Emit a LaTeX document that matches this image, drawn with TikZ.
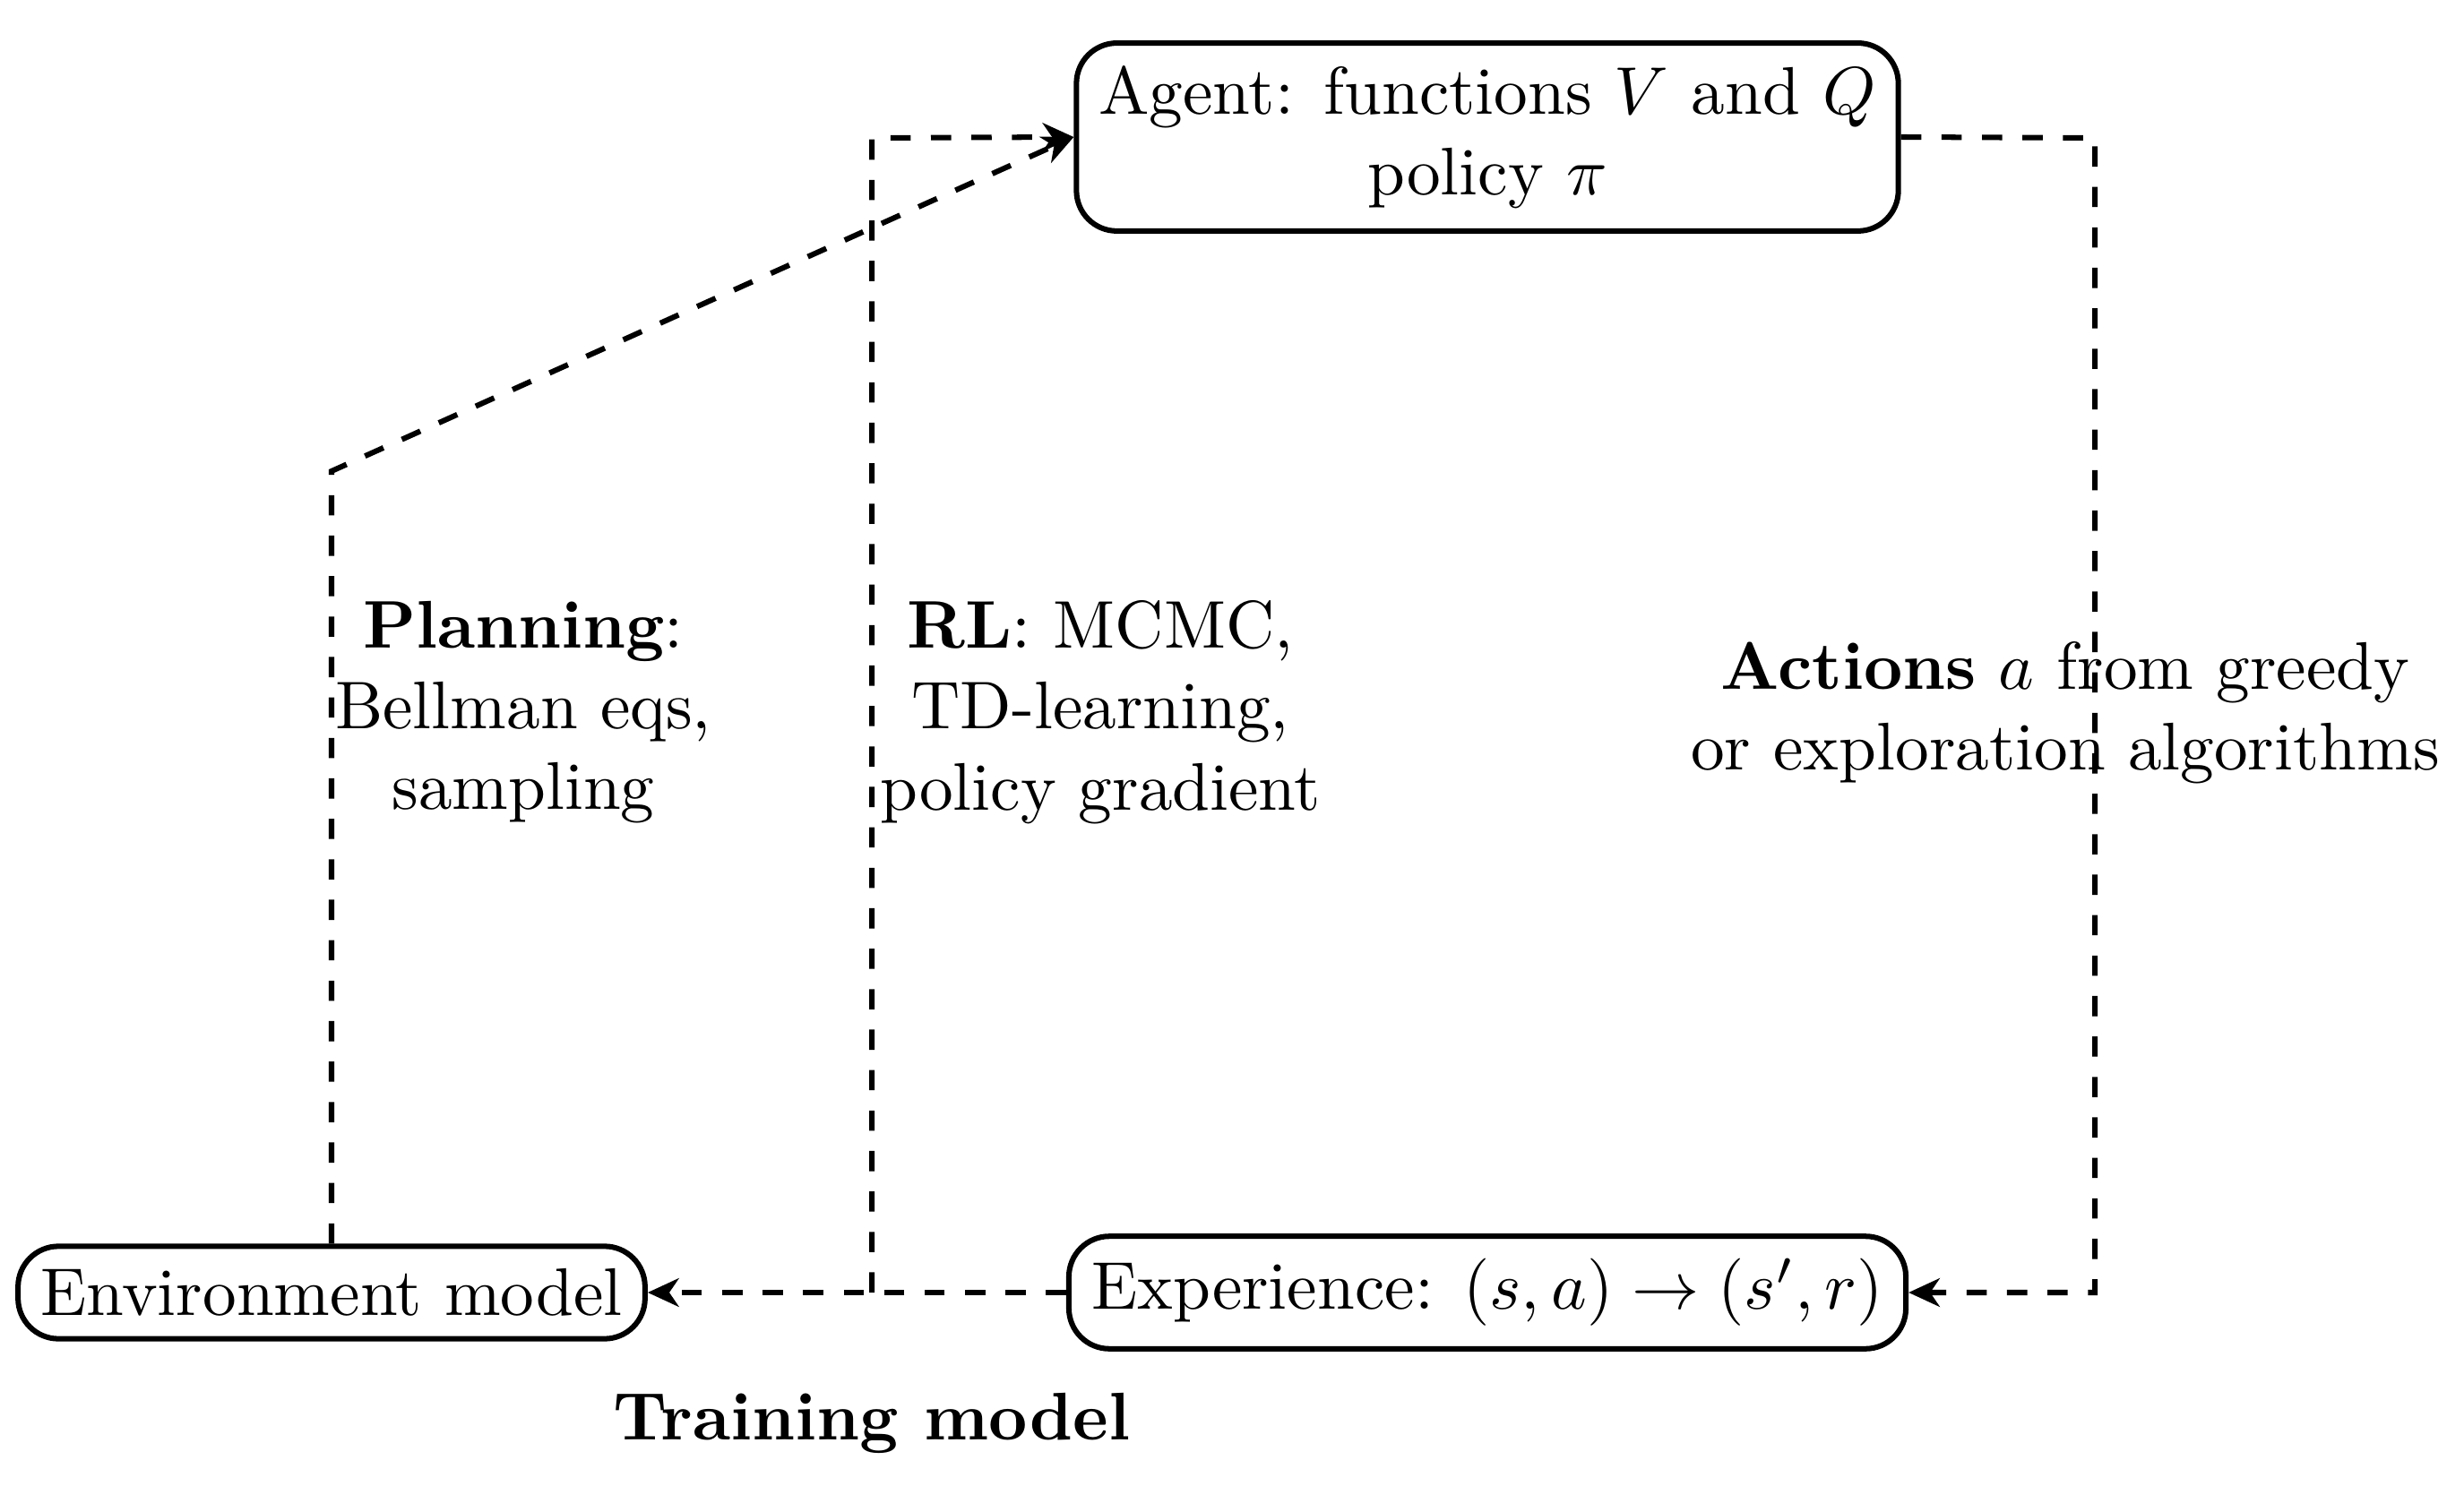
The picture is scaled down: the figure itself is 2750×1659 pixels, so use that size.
\documentclass[tikz,border=0pt]{standalone}
\usetikzlibrary{arrows.meta,calc}
\begin{document}
\begin{tikzpicture}[x=0.004667cm,y=-0.004667cm,
  box/.style={draw,thick,rounded corners=6pt,align=center,fill=white},
  conn/.style={dashed,thick},
  arr/.style={conn,-{Stealth[length=4.6pt,width=4.2pt,inset=1.4pt]}},
  lab/.style={align=center}]
\useasboundingbox (0,0) rectangle (2750,1659);
\node[box] (agent) at (1660,153) {Agent: functions $V$ and $Q$\\policy $\pi$};
\node[box] (exp) at (1660,1443) {Experience: $(s,a)\rightarrow(s',r)$};
\node[box] (env) at (370,1443) {Environment model};
\coordinate (pbend) at (370,526);
\coordinate (rlfoot) at (973,1443);
\coordinate (rltop) at (973,154);
\coordinate (atop) at (2338,154);
\coordinate (abot) at (2338,1443);
\draw[arr] (env.north) -- (pbend) -- (agent.west);
\draw[arr] (exp.west) -- (env.east);
\draw[arr] (rlfoot) -- (rltop) -- (agent.west);
\draw[arr] (agent.east) -- (atop) -- (abot) -- (exp.east);
\node[lab] (plan) at (584,795) {\textbf{Planning}:\\Bellman eqs,\\sampling};
\node[lab] (rl) at (1228,795) {\textbf{RL}: MCMC,\\TD-learning,\\policy gradient};
\node[lab] (act) at (2305,796) {\textbf{Actions} $a$ from greedy\\or exploration algorithms};
\node (train) at (973,1589) {\textbf{Training model}};
\end{tikzpicture}
\end{document}
